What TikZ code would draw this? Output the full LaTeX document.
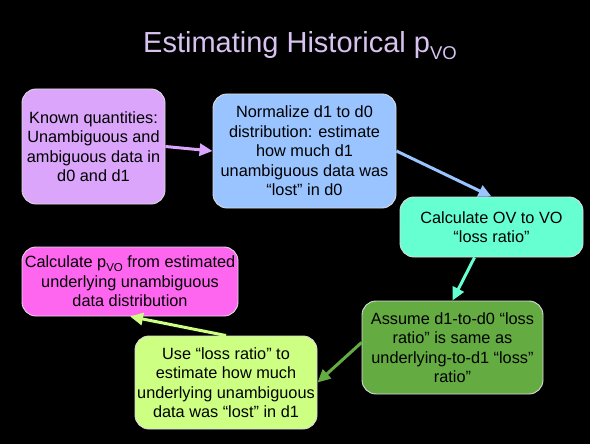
\documentclass[tikz,border=0pt]{standalone}
\usepackage{fontspec}
\setmainfont{Liberation Sans}
\usetikzlibrary{arrows.meta}
\definecolor{titlecol}{RGB}{215,195,240}
\definecolor{cpurple}{RGB}{218,165,250}
\definecolor{cblue}{RGB}{153,196,255}
\definecolor{ccyan}{RGB}{102,255,210}
\definecolor{cmagenta}{RGB}{255,102,240}
\definecolor{clgreen}{RGB}{204,255,130}
\definecolor{cdgreen}{RGB}{100,172,66}
\definecolor{edgecol}{RGB}{220,220,220}
\tikzset{
  box/.style={draw=edgecol, line width=0.9pt, rounded corners=14pt, align=center,
    inner sep=0pt, font=\fontsize{16.3pt}{19.5pt}\selectfont, text=black},
  flow/.style={line width=3pt, -{Triangle[length=13pt,width=12pt]}}
}
\begin{document}
\begin{tikzpicture}[x=1pt,y=-1pt]
\fill[black] (0,0) rectangle (590,444);
\useasboundingbox (0,0) rectangle (590,444);
\node[anchor=base west, inner sep=0pt, text=titlecol, font=\fontsize{29pt}{32pt}\selectfont] (title) at (143,53)
  {Estimating Historical p\raisebox{-6pt}{\fontsize{18.5pt}{22pt}\selectfont VO}};
\node[box, fill=cpurple, minimum width=143pt, minimum height=115pt] (b1) at (93.5,146.5)
  {Known quantities:\\Unambiguous and\\ambiguous data in\\d0 and d1};
\node[box, fill=cblue, minimum width=183pt, minimum height=114pt] (b2) at (304.5,151)
  {Normalize d1 to d0\\distribution: estimate\\how much d1\\unambiguous data was\\“lost” in d0};
\node[box, fill=ccyan, minimum width=183pt, minimum height=60pt] (b3) at (491.5,227)
  {Calculate OV to VO\\“loss ratio”};
\node[box, fill=cdgreen, minimum width=181pt, minimum height=93pt] (b6) at (452.5,347.5)
  {Assume d1-to-d0 “loss\\ratio” is same as\\underlying-to-d1 “loss”\\ratio”};
\node[box, fill=clgreen, minimum width=182pt, minimum height=93pt] (b5) at (226,382.5)
  {Use “loss ratio” to\\estimate how much\\underlying unambiguous\\data was “lost” in d1};
\node[box, fill=cmagenta, minimum width=216pt, minimum height=69pt] (b4) at (130,281.5)
  {Calculate p\raisebox{-4pt}{\fontsize{11.5pt}{12pt}\selectfont VO} from estimated\\underlying unambiguous\\data distribution};
\draw[flow, cpurple] (b1.east) -- (b2.west);
\draw[flow, cblue] (b2.east) -- (b3.north);
\draw[flow, ccyan] ([xshift=-17pt]b3.south) -- (b6.north);
\draw[flow, cdgreen] ([yshift=5pt]b6.west) -- (b5.east);
\draw[flow, clgreen] (b5.north) -- (b4.south);
\end{tikzpicture}
\end{document}
